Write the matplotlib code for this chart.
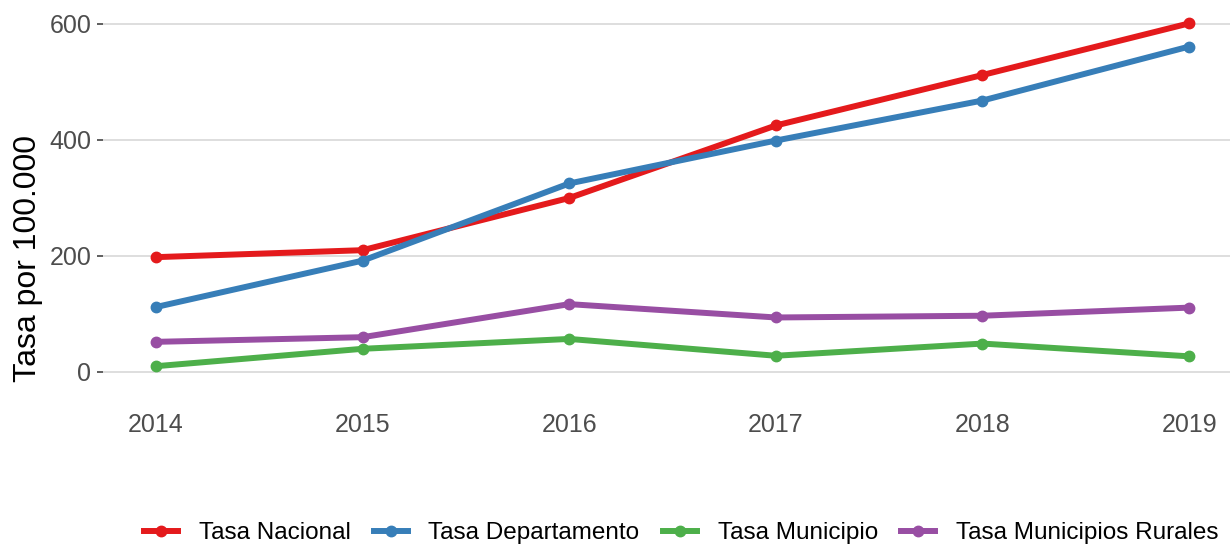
import matplotlib
matplotlib.use("Agg")
import matplotlib.pyplot as plt
from matplotlib.lines import Line2D

plt.rcParams['font.family'] = ['Liberation Sans', 'DejaVu Sans']

# datos
anios = [2014, 2015, 2016, 2017, 2018, 2019]
tasa_nacional = [198, 210, 300, 425, 512, 601]
tasa_departamento = [112, 192, 325, 399, 468, 561]
tasa_municipio = [10, 40, 57, 28, 49, 27]
tasa_rurales = [52, 60, 117, 94, 97, 111]

nombres = ["Tasa Nacional", "Tasa Departamento", "Tasa Municipio",
           "Tasa Municipios Rurales"]
colores = ["#E41A1C", "#377EB8", "#4DAF4A", "#984EA3"]
series = [tasa_nacional, tasa_departamento, tasa_municipio, tasa_rurales]

W, H = 1230, 546
fig = plt.figure(figsize=(W / 100, H / 100), dpi=100)
ax = fig.add_axes([103 / W, (H - 383.6) / H, 1127 / W, 378.2 / H])

for y, c in zip(series, colores):
    ax.plot(anios, y, color=c, lw=4.3, solid_capstyle="butt", zorder=3)
for y, c in zip(series, colores):
    ax.plot(anios, y, "o", color=c, ms=7.5, zorder=4)

ax.set_xlim(2013.7435, 2019.198)
ax.set_ylim(-20, 632)
ax.set_yticks([0, 200, 400, 600])
ax.set_xticks(anios)
ax.grid(axis="y", color="#DEDEDE", lw=1.4, zorder=0)
for s in ax.spines.values():
    s.set_visible(False)
ax.tick_params(axis="y", length=4.3, width=1.1, color="#333333", pad=4,
               labelsize=18, labelcolor="#4D4D4D")
ax.tick_params(axis="x", length=0, pad=21, labelsize=18,
               labelcolor="#4D4D4D")

fig.text(28 / W, (H - 258) / H, "Tasa por 100.000", rotation=90,
         ha="center", va="center", fontsize=23, color="black")

handles = [Line2D([], [], color=c, lw=4.3, marker="o", ms=7.5) for c in colores]
fig.legend(handles, nombres, loc="center", bbox_to_anchor=(681 / W, (H - 533) / H),
           ncol=4, frameon=False, fontsize=17.5, handlelength=1.4,
           handletextpad=0.86, columnspacing=0.95, borderpad=0, borderaxespad=0)

fig.savefig("out.png", dpi=100)
